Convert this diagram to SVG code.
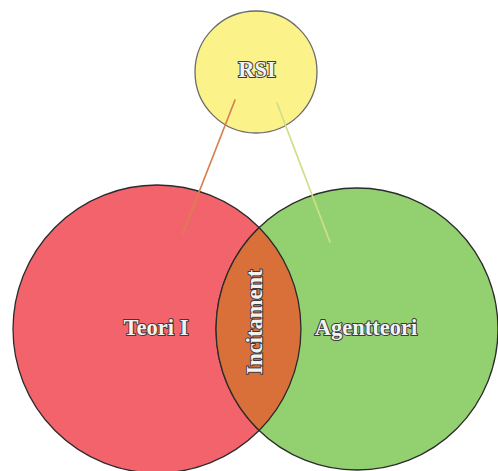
<svg xmlns="http://www.w3.org/2000/svg" width="498" height="471" viewBox="0 0 498 471">
<style>
.c{stroke:#2b2b2b;stroke-width:1.3}
.lbl{font-family:"Liberation Serif","DejaVu Serif",serif;font-weight:bold;font-size:22.5px;fill:#f2f2f2;stroke:#3a3a3a;stroke-width:2;paint-order:stroke;text-anchor:middle}
.ln{stroke-width:1.7;fill:none;stroke-linecap:round}
</style>
<rect width="498" height="471" fill="#ffffff"/>
<g id="teori">
<circle class="c" cx="157" cy="329" r="144" fill="#f2636b"/>
</g>
<g id="agentteori">
<circle class="c" cx="357" cy="329" r="141" fill="#92d070"/>
</g>
<g id="incitament">
<path class="c" d="M259.1,227.5 A144,144 0 0,1 259.1,430.5 A141,141 0 0,1 259.1,227.5 Z" fill="#d9703a"/>
<text class="lbl" transform="translate(262,322) rotate(-90)">Incitament</text>
</g>
<g id="rsi">
<circle cx="256" cy="72" r="61" fill="#fbf38a" stroke="#6a6a6a" stroke-width="1.3"/>
<text class="lbl" x="257" y="77">RSI</text>
</g>
<g id="teori-label"><text class="lbl" x="156" y="335">Teori I</text></g>
<g id="agentteori-label"><text class="lbl" x="366" y="335">Agentteori</text></g>
<g id="connectors">
<line class="ln" x1="235" y1="100" x2="183" y2="233" stroke="#d98050"/>
<line class="ln" x1="277" y1="103" x2="330" y2="242" stroke="#d0df86"/>
</g>
</svg>
